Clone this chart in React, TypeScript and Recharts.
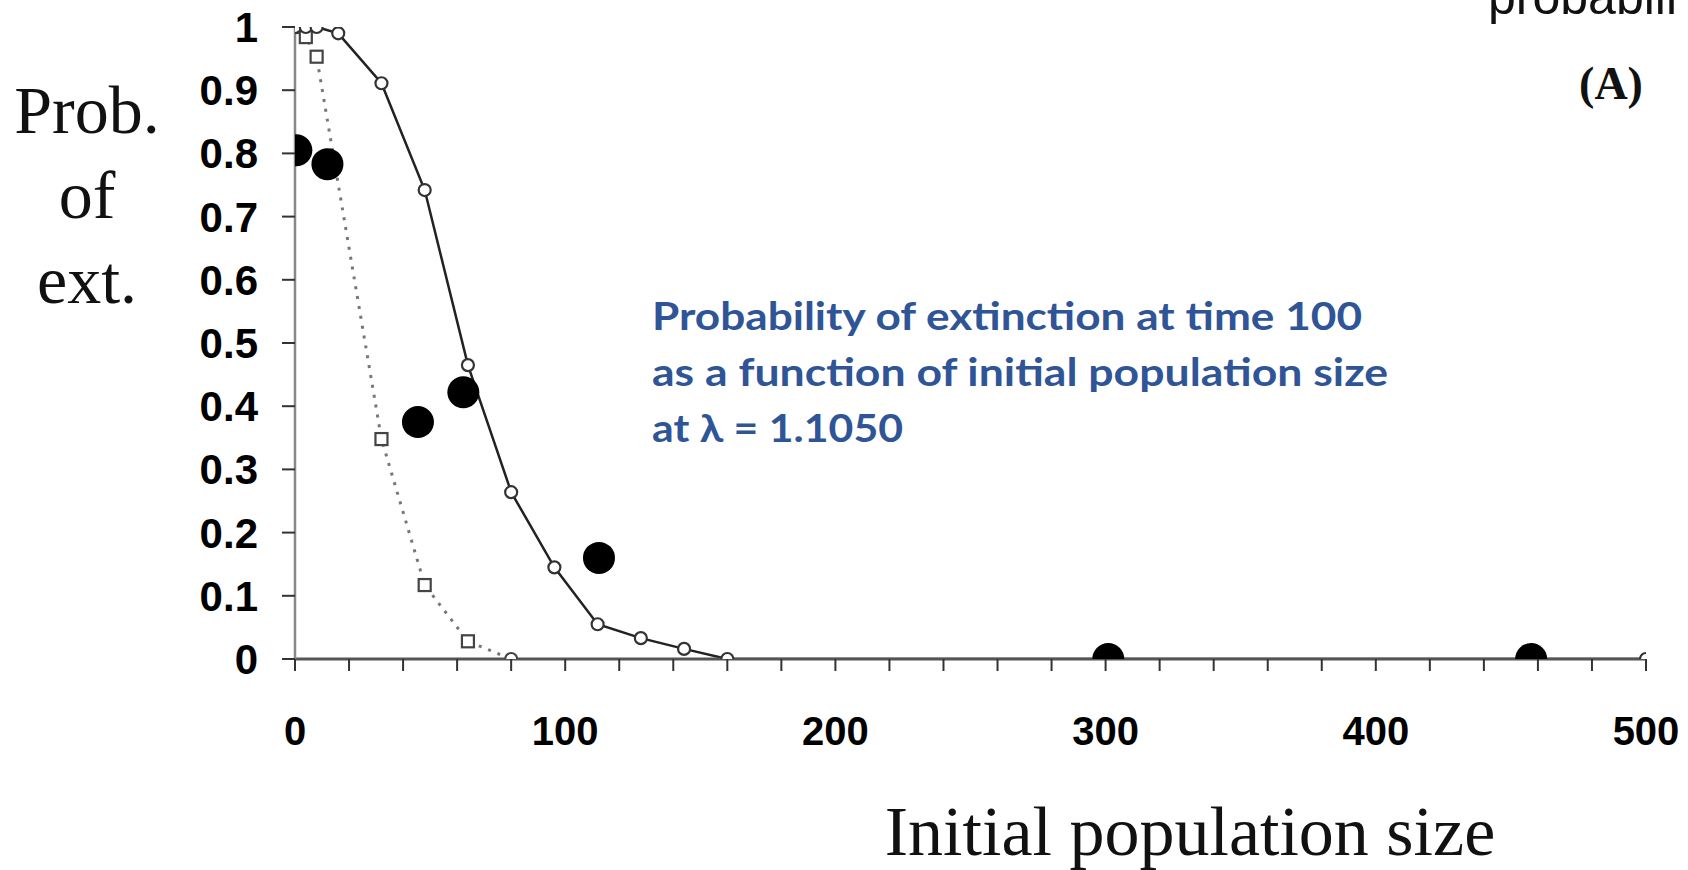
import React from "react";
import { ComposedChart, Line, Scatter, XAxis, YAxis } from "recharts";

// Model curve (solid line, open circles)
const modelX = [0, 4, 8, 16, 32, 48, 64, 80, 96, 112, 128, 144, 160, 500];
const modelY = [1, 1, 1, 0.99, 0.911, 0.742, 0.465, 0.264, 0.145, 0.055, 0.033, 0.016, 0, 0];

// Alternative model (dotted line, open squares)
const altX = [0, 4, 8, 32, 48, 64, 80];
const altY = [1, 0.984, 0.953, 0.348, 0.117, 0.028, 0];

// Observed (filled circles)
const obsX = [0.5, 12, 45.5, 62.3, 112.5, 301, 457.5];
const obsY = [0.805, 0.783, 0.375, 0.422, 0.16, 0, 0];

const xTicks = [0, 20, 40, 60, 80, 100, 120, 140, 160, 180, 200, 220, 240, 260, 280, 300, 320, 340, 360, 380, 400, 420, 440, 460, 480, 500];
const xLabelled = [0, 100, 200, 300, 400, 500];
const yTicks = [0, 0.1, 0.2, 0.3, 0.4, 0.5, 0.6, 0.7, 0.8, 0.9, 1];
const yTickLabels = ["0", "0.1", "0.2", "0.3", "0.4", "0.5", "0.6", "0.7", "0.8", "0.9", "1"];

const yTitle = ["Prob.", "of", "ext."];
const xTitle = "Initial population size";
const panelTag = "(A)";
const noteLines = [
  "Probability of extinction at time 100",
  "as a function of initial population size",
  "at \u03bb = 1.1050",
];
const cornerText = "probabili";

const modelData = modelX.map((x, i) => ({ x, y: modelY[i] }));
const altData = altX.map((x, i) => ({ x, y: altY[i] }));
const obsData = obsX.map((x, i) => ({ x, y: obsY[i] }));

const W = 1688;
const H = 870;

const XTick = (props: any) => {
  const { x, y, payload } = props;
  if (!xLabelled.includes(payload.value)) return <g />;
  return (
    <text x={x} y={y + 72} textAnchor="middle" fontFamily="Liberation Sans, Arial, sans-serif" fontWeight="bold" fontSize={40} fill="#000">
      {String(payload.value)}
    </text>
  );
};

const YTick = (props: any) => {
  const { x, y, payload } = props;
  const idx = yTicks.findIndex((t) => Math.abs(t - payload.value) < 1e-9);
  return (
    <text x={x - 22} y={y + 15} textAnchor="end" fontFamily="Liberation Sans, Arial, sans-serif" fontWeight="bold" fontSize={42} fill="#000">
      {idx >= 0 ? yTickLabels[idx] : ""}
    </text>
  );
};

const modelDot = (p: any) => {
  const { cx, cy, index } = p;
  return <circle key={"m" + index} cx={cx} cy={cy} r={6} fill="#fff" stroke="#333" strokeWidth={2.2} />;
};

const altDot = (p: any) => {
  const { cx, cy, index } = p;
  if (index === altData.length - 1) {
    return <circle key={"a" + index} cx={cx} cy={cy} r={6} fill="#fff" stroke="#444" strokeWidth={2.2} />;
  }
  return <rect key={"a" + index} x={cx - 6} y={cy - 6} width={12} height={12} fill="#fff" stroke="#444" strokeWidth={2.2} />;
};

const obsShape = (p: any) => {
  const { cx, cy } = p;
  return <circle cx={cx} cy={cy} r={16} fill="#000" />;
};

export default function App() {
  return (
    <div style={{ position: "absolute", left: 0, top: 0, width: W, height: H, background: "#fff", overflow: "hidden" }}>
      <ComposedChart width={W} height={H} margin={{ top: 27, right: 42, bottom: 151, left: 0 }}>
        <XAxis
          type="number"
          dataKey="x"
          domain={[0, 500]}
          ticks={xTicks}
          interval={0}
          tickSize={12}
          height={60}
          axisLine={{ stroke: "#555", strokeWidth: 3 }}
          tickLine={{ stroke: "#333", strokeWidth: 2 }}
          tick={<XTick />}
          allowDataOverflow
        />
        <YAxis
          type="number"
          dataKey="y"
          domain={[0, 1]}
          ticks={yTicks}
          interval={0}
          tickSize={13}
          width={295}
          axisLine={{ stroke: "#888", strokeWidth: 2.5 }}
          tickLine={{ stroke: "#333", strokeWidth: 2 }}
          tick={<YTick />}
          allowDataOverflow
        />
        <Line
          data={altData}
          dataKey="y"
          type="linear"
          stroke="#777"
          strokeWidth={3}
          strokeDasharray="3 7"
          dot={altDot}
          activeDot={false}
          isAnimationActive={false}
        />
        <Line
          data={modelData}
          dataKey="y"
          type="linear"
          stroke="#222"
          strokeWidth={2.5}
          dot={modelDot}
          activeDot={false}
          isAnimationActive={false}
        />
        <Scatter data={obsData} dataKey="y" shape={obsShape} isAnimationActive={false} />
      </ComposedChart>
      <svg width={W} height={H} style={{ position: "absolute", left: 0, top: 0, pointerEvents: "none" }}>
        {yTitle.map((t, i) => (
          <text key={t} x={87} y={133 + i * 85} textAnchor="middle" fontFamily="Liberation Serif, Times New Roman, serif" fontSize={68} fill="#111">
            {t}
          </text>
        ))}
        <text x={1190} y={855} textAnchor="middle" fontFamily="Liberation Serif, Times New Roman, serif" fontSize={70} fill="#111">
          {xTitle}
        </text>
        <text x={1611} y={99} textAnchor="middle" fontFamily="Liberation Serif, Times New Roman, serif" fontWeight="bold" fontSize={46} fill="#111">
          {panelTag}
        </text>
        <text x={1488} y={14} fontFamily="Liberation Sans, Arial, sans-serif" fontSize={50} fill="#111">
          {cornerText}
        </text>
        {noteLines.map((t, i) => (
          <text
            key={i}
            x={652}
            y={330 + i * 56}
            fontFamily="Lato, Open Sans, sans-serif"
            fontWeight="bold"
            fontSize={39}
            fill="#2F5597"
            textLength={[710, 736, 251][i]}
            lengthAdjust="spacingAndGlyphs"
          >
            {t}
          </text>
        ))}
      </svg>
    </div>
  );
}
